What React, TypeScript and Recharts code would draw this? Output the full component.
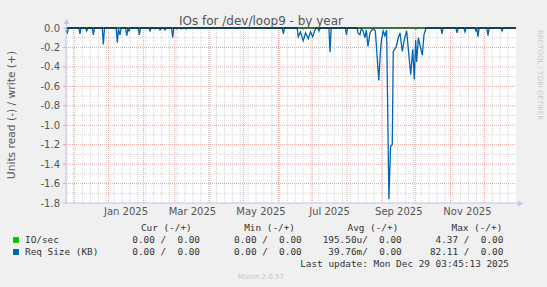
import { LineChart, Line, XAxis, YAxis, CartesianGrid, ReferenceLine } from "recharts";

// munin "by year" graph: 400 days up to Mon Dec 29 2025 03:45
// x = days since Nov 24 2024 03:45, y = read side (drawn negative)

const reqDays = [
  0, 1.2, 2.2,
  11.4, 12.4, 13.4,
  17.4, 18.4, 19.4,
  23.3, 24.3, 25.3,
  32.2, 33.2, 34.2,
  44.6, 45.6, 46.6, 48, 49,
  53, 54, 55, 56, 57,
  64.2, 65.2, 66.2,
  73.7, 74.7, 75.7,
  78, 79, 80,
  82.6, 83.6, 84.6,
  87, 88, 89,
  93.8, 94.8, 95.8,
  97.7, 98.7, 99.7,
  102, 103, 104,
  105.7, 106.7, 107.7,
  192.2, 193.2, 194.2,
  205.5, 206.5, 208.4, 210.9, 212.9, 215.4, 217.3, 219.3, 221.3, 222.3,
  223.9, 224.9, 225.9,
  233.7, 234.7, 235.7,
  248.3, 249.3, 250.3,
  258.6, 259.6, 261.3, 262.5, 264, 265.8, 267, 268.4, 270.2, 272, 273.5, 275,
  278, 279.5, 280.5, 282, 283.5, 285, 287, 288.5, 290, 290.9, 293.3, 295.4,
  296.9, 298.9, 300.7, 302.8, 304.3, 306.4, 308.2, 309.6, 310.8, 311.7, 313.2,
  314.7, 316.7, 318.2, 320,
  333.2, 334.2, 335.2,
  346.6, 347.6, 348.6,
  353.7, 354.7, 355.7,
  363.4, 364.4, 365.3, 366.2, 367.2,
  374.1, 375.1, 376.1,
  386.6, 387.6, 388.6,
  400,
];
const reqRead = [
  -0.02, -0.05, 0,
  0, -0.06, 0,
  0, -0.03, 0,
  0, -0.07, 0,
  0, -0.17, 0,
  0, -0.15, -0.01, -0.07, 0,
  0, -0.08, -0.01, -0.03, 0,
  0, -0.07, 0,
  0, -0.03, 0,
  0, -0.01, 0,
  0, -0.02, 0,
  0, -0.02, 0,
  0, -0.1, 0,
  0, -0.01, 0,
  0, -0.01, 0,
  0, -0.01, 0,
  0, -0.06, 0,
  0, -0.09, -0.04, -0.13, -0.05, -0.11, -0.04, -0.09, -0.02, 0,
  0, -0.03, 0,
  0, -0.25, 0,
  0, -0.07, 0,
  0, -0.05, -0.07, -0.01, -0.03, -0.1, -0.02, -0.19, -0.05, -0.02, -0.01, -0.03,
  -0.54, -0.24, -0.12, -0.03, -0.08, -0.02, -1.76, -1.22, -1.2, -0.24, -0.2, -0.1,
  -0.05, -0.24, -0.12, -0.03, -0.22, -0.48, -0.22, -0.53, -0.12, -0.35, -0.1,
  -0.18, -0.28, -0.07, 0,
  0, -0.06, 0,
  0, -0.05, 0,
  0, -0.04, 0,
  0, -0.03, -0.01, -0.09, 0,
  0, -0.08, 0,
  0, -0.03, 0,
  0,
];

const ioDays = [0, 210, 210.9, 212, 310, 310.8, 312, 400];
const ioRead = [0, 0, -0.01, 0, 0, -0.012, 0, 0];

const monthStarts = [6.84, 37.84, 68.84, 96.84, 127.84, 157.84, 188.84, 218.84, 249.84, 280.84, 310.84, 341.84, 371.84];
const labelDays = [53.34, 112.34, 173.34, 234.34, 295.84, 356.84];
const labelNames = ["Jan 2025", "Mar 2025", "May 2025", "Jul 2025", "Sep 2025", "Nov 2025"];
const yTicks = [0, -0.2, -0.4, -0.6, -0.8, -1.0, -1.2, -1.4, -1.6, -1.8];
const yMinor = [-0.1, -0.3, -0.5, -0.7, -0.9, -1.1, -1.3, -1.5, -1.7];
const firstMonday = 0.84;

const legendHeader = ["Cur (-/+)", "Min (-/+)", "Avg (-/+)", "Max (-/+)"];
const seriesNames = ["IO/sec", "Req Size (KB)"];
const seriesColors = ["#00cc00", "#0066b3"];
const ioStats = ["0.00 /  0.00", "0.00 /  0.00", "195.50u/  0.00", "4.37 /  0.00"];
const reqStats = ["0.00 /  0.00", "0.00 /  0.00", "39.76m/  0.00", "82.11 /  0.00"];
const lastUpdate = "Last update: Mon Dec 29 03:45:13 2025";

const headerRight = [191.7, 295, 398.3, 502.3];
const statRight = [200, 301.7, 401.7, 503.3];

const reqData = reqDays.map((d, i) => ({ day: d, value: reqRead[i] }));
const ioData = ioDays.map((d, i) => ({ day: d, value: ioRead[i] }));
const weekLines = Array.from({ length: 57 }, (_, i) => firstMonday + 7 * i);

const MINOR = "#d4d4d4";
const MAJOR = "#eaa4a4";
const AXIS = "#c4c4ee";
const mono = "'DejaVu Sans Mono', monospace";

function Txt({ text, right, left, y, color = "#333" }: { text: string; right?: number; left?: number; y: number; color?: string }) {
  return (
    <div
      style={{
        position: "absolute",
        top: y - 6,
        left: left,
        right: right !== undefined ? 547 - right : undefined,
        fontFamily: mono,
        fontSize: 9.4,
        lineHeight: "12px",
        whiteSpace: "pre",
        color,
      }}
    >
      {text}
    </div>
  );
}

export default function App() {
  const rows = [ioStats, reqStats];
  return (
    <div style={{ position: "absolute", left: 0, top: 0, width: 547, height: 287, background: "#f0f0f0", overflow: "hidden" }}>
      <LineChart width={547} height={287} margin={{ top: 28, right: 31, bottom: 64, left: 6 }}>
        <CartesianGrid fill="#ffffff" horizontal={false} vertical={false} />
        <XAxis
          xAxisId="m"
          type="number"
          dataKey="day"
          domain={[0, 400]}
          ticks={monthStarts}
          tickFormatter={() => ""}
          height={0}
          axisLine={false}
          tickLine={{ stroke: MAJOR }}
          tickSize={3}
        />
        <XAxis
          type="number"
          dataKey="day"
          domain={[0, 400]}
          ticks={labelDays}
          tickFormatter={(v: number) => labelNames[labelDays.indexOf(v)] ?? ""}
          height={20}
          tickLine={false}
          tickSize={3}
          tickMargin={2}
          axisLine={{ stroke: AXIS }}
          tick={{ fontSize: 10, fill: "#555", fontFamily: "DejaVu Sans" }}
          interval={0}
        />
        <YAxis
          width={60}
          domain={[-1.8, 0]}
          ticks={yTicks}
          interval={0}
          tickFormatter={(v: number) => v.toFixed(1)}
          tickLine={{ stroke: MAJOR }}
          tickSize={3}
          tickMargin={3}
          axisLine={{ stroke: AXIS }}
          tick={{ fontSize: 10, fill: "#555", fontFamily: "DejaVu Sans" }}
        />
        {weekLines.map((d) => (
          <ReferenceLine key={"w" + d} x={d} stroke={MINOR} strokeDasharray="1 1" ifOverflow="hidden" />
        ))}
        {yMinor.map((v) => (
          <ReferenceLine key={"ym" + v} y={v} stroke={MINOR} strokeDasharray="1 1" />
        ))}
        {monthStarts.map((d) => (
          <ReferenceLine key={"m" + d} x={d} stroke={MAJOR} strokeDasharray="1 1" />
        ))}
        {yTicks.slice(1, -1).map((v) => (
          <ReferenceLine key={"y" + v} y={v} stroke={MAJOR} strokeDasharray="1 1" />
        ))}
        <Line data={ioData} dataKey="value" type="linear" stroke="#00cc00" strokeWidth={1.2} dot={false} isAnimationActive={false} />
        <Line data={reqData} dataKey="value" type="linear" stroke="#0066b3" strokeWidth={1.3} dot={false} isAnimationActive={false} />
        <ReferenceLine y={0} stroke="#000000" strokeWidth={1} />
      </LineChart>

      <svg width={547} height={287} style={{ position: "absolute", left: 0, top: 0, pointerEvents: "none" }}>
        <text x={261} y={25} textAnchor="middle" fontFamily="DejaVu Sans" fontSize={12} fill="#555">
          IOs for /dev/loop9 - by year
        </text>
        <text
          transform="translate(14.5,115) rotate(-90)"
          textAnchor="middle"
          fontFamily="DejaVu Sans"
          fontSize={10.7}
          fill="#555"
        >
          Units read (-) / write (+)
        </text>
        <text
          transform="translate(538,30) rotate(90)"
          textAnchor="start"
          fontFamily="DejaVu Sans"
          fontSize={7}
          fill="#c8c8c8"
        >
          RRDTOOL / TOBI OETIKER
        </text>
        <line x1={66.5} y1={28} x2={66.5} y2={22} stroke={AXIS} />
        <polygon points="63.5,24 69.5,24 66.5,19" fill={AXIS} />
        <line x1={516} y1={203.5} x2={520} y2={203.5} stroke={AXIS} />
        <polygon points="518,200.5 518,206.5 523,203.5" fill={AXIS} />
        <text x={261} y={279} textAnchor="middle" fontFamily="DejaVu Sans" fontSize={7} fill="#c4c4c4">
          Munin 2.0.57
        </text>
      </svg>

      {legendHeader.map((h, i) => (
        <Txt key={h} text={h} right={headerRight[i]} y={228} />
      ))}
      {rows.map((stats, r) => (
        <div key={seriesNames[r]}>
          <div
            style={{
              position: "absolute",
              left: 13,
              top: 240 + r * 12 - 3,
              width: 6,
              height: 6,
              background: seriesColors[r],
            }}
          />
          <Txt text={seriesNames[r]} left={25} y={240 + r * 12} />
          {stats.map((s, i) => (
            <Txt key={i} text={s} right={statRight[i]} y={240 + r * 12} />
          ))}
        </div>
      ))}
      <Txt text={lastUpdate} right={509} y={264} />
    </div>
  );
}
